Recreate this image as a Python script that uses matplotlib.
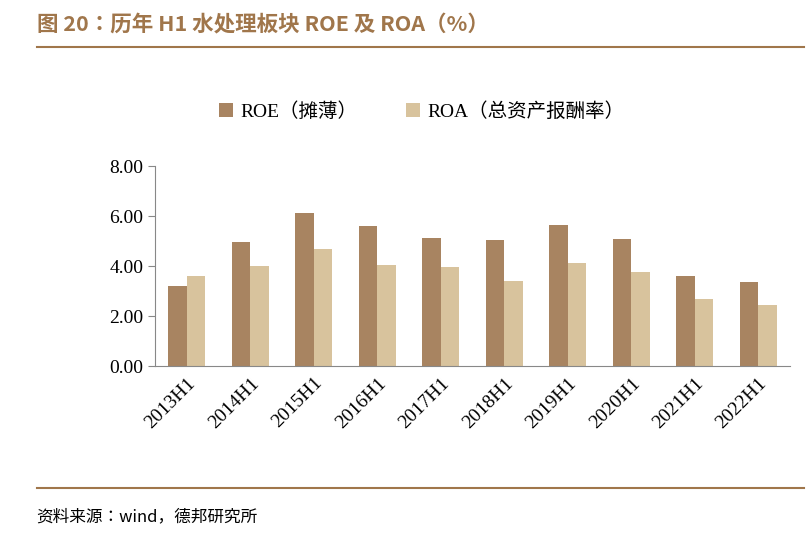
import matplotlib
matplotlib.use("Agg")
import matplotlib.pyplot as plt
from matplotlib import font_manager as fm
import numpy as np

categories = ["2013H1","2014H1","2015H1","2016H1","2017H1","2018H1","2019H1","2020H1","2021H1","2022H1"]
roe = [3.20,4.96,6.12,5.60,5.12,5.04,5.64,5.08,3.60,3.36]
roa = [3.60,4.00,4.68,4.04,3.96,3.40,4.12,3.76,2.68,2.44]
yticks = [0,2,4,6,8]

names = sorted({f.name for f in fm.fontManager.ttflist})
cjk = [n for n in names if "CJK" in n]
pref = [n for n in ["Noto Sans CJK SC","Noto Sans CJK JP","Noto Sans CJK TC","Noto Sans CJK KR"] if n in cjk]
cjkname = pref[0] if pref else (cjk[0] if cjk else "DejaVu Sans")
if not cjk:
    for f in fm.findSystemFonts():
        if "CJK" in f or "cjk" in f.lower():
            fm.fontManager.addfont(f)
    names = sorted({f.name for f in fm.fontManager.ttflist})
    cjk = [n for n in names if "CJK" in n]
    cjkname = cjk[0] if cjk else "DejaVu Sans"

fam = ["Liberation Serif", cjkname]
brown = "#A0764B"
fig = plt.figure(figsize=(8.12,5.49), dpi=100)
ax = fig.add_axes([0.191,0.333,0.782,0.364])
x = np.arange(len(categories))
w = 0.29
ax.bar(x-w/2, roe, w, color="#A88461", label="ROE（摊薄）")
ax.bar(x+w/2, roa, w, color="#D8C39D", label="ROA（总资产报酬率）")
ax.set_ylim(0,8)
ax.set_xlim(-0.5,len(categories)-0.5)
ax.set_yticks(yticks)
ax.set_yticklabels([f"{v:.2f}" for v in yticks], fontfamily=fam, fontsize=14)
ax.set_xticks(x)
ax.set_xticklabels(categories, rotation=45, ha="right", rotation_mode="anchor", fontfamily=fam, fontsize=14)
ax.tick_params(axis="x", length=0, pad=6)
ax.tick_params(axis="y", direction="out", length=5, color="#888888")
for s in ["top","right"]:
    ax.spines[s].set_visible(False)
ax.spines["left"].set_color("#888888")
ax.spines["bottom"].set_color("#888888")
ax.legend(loc="lower center", bbox_to_anchor=(0.42,1.14), ncol=2, frameon=False,
          prop={"family":fam,"size":14}, handlelength=0.7, handleheight=0.7, columnspacing=2.5, handletextpad=0.4)
fig.text(0.045,0.955,"图 20：历年 H1 水处理板块 ROE 及 ROA（%）", color=brown, fontsize=15.5,
         fontweight="bold", fontfamily=[cjkname], va="center")
fig.add_artist(plt.Line2D([0.045,0.99],[0.915,0.915], color=brown, lw=1.5))
fig.add_artist(plt.Line2D([0.045,0.99],[0.112,0.112], color=brown, lw=1.5))
fig.text(0.045,0.058,"资料来源：wind，德邦研究所", fontsize=12, fontfamily=[cjkname], va="center")
fig.savefig("out.png", dpi=100)
